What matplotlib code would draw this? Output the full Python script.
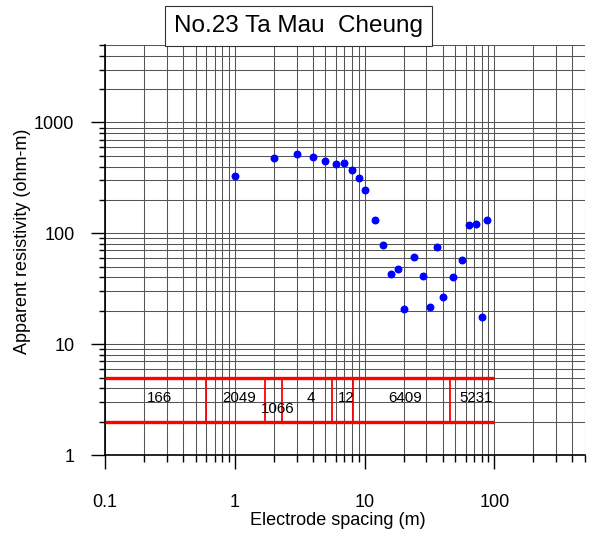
"""Sounding curve for VES station No.23 with the interpreted layer model."""
import matplotlib
matplotlib.use("Agg")
import matplotlib.pyplot as plt
from matplotlib.ticker import FixedLocator, LogLocator, NullFormatter

plt.rcParams["font.family"] = ["Liberation Sans", "DejaVu Sans"]

TITLE = "No.23 Ta Mau  Cheung"

# field data: electrode spacing (m) vs apparent resistivity (ohm-m)
spacing = [1, 2, 3, 4, 5, 6, 7, 8, 9, 10, 12, 14, 16, 18, 20,
           24, 28, 32, 36, 40, 48, 56, 64, 72, 80, 88]
rho_app = [330, 476, 517, 492, 453, 423, 432, 371, 318, 245, 132, 78, 43, 47.7, 20.8,
           61.6, 41.5, 21.5, 75, 26.5, 40, 57.5, 118, 122, 17.6, 132]

# interpreted model: layer boundaries and resistivities
layer_bounds = [0.6, 1.7, 2.3, 5.6, 8.1, 45.6]
layer_rho = [166, 2049, 1066, 4, 12, 6409, 5231]

x_major = [0.1, 1, 10, 100]
x_labels = ["0.1", "1", "10", "100"]
y_major = [1, 10, 100, 1000]
y_labels = ["1", "10", "100", "1000"]

# where the model strip is drawn
BAND_LO, BAND_HI = 2, 5
MODEL_X0, MODEL_X1 = 0.1, 100
LOW_LABELS = {2}          # labels pushed under the strip centre (thin layers)

GRID = "#555555"


def draw():
    fig = plt.figure(figsize=(5.95, 5.34), dpi=100)
    ax = fig.add_axes([105 / 595, 79 / 534, 480 / 595, 410 / 534])
    ax.set_xscale("log")
    ax.set_yscale("log")
    ax.set_xlim(0.1, 500)
    ax.set_ylim(1, 5000)

    ax.xaxis.set_major_locator(FixedLocator(x_major))
    ax.set_xticklabels(x_labels)
    ax.yaxis.set_major_locator(FixedLocator(y_major))
    ax.set_yticklabels(y_labels)
    for axis in (ax.xaxis, ax.yaxis):
        axis.set_minor_locator(LogLocator(base=10, subs=range(2, 10), numticks=20))
        axis.set_minor_formatter(NullFormatter())

    ax.grid(True, which="both", color=GRID, lw=0.75)
    for side in ("top", "right"):
        ax.spines[side].set_visible(False)
    for side in ("left", "bottom"):
        ax.spines[side].set_linewidth(1.2)

    ax.tick_params(axis="x", which="major", direction="out", length=10, width=1,
                   pad=18, labelsize=13)
    ax.tick_params(axis="x", which="minor", direction="out", length=5, width=1)
    ax.tick_params(axis="y", which="major", direction="out", length=10, width=1,
                   pad=12, labelsize=13)
    ax.tick_params(axis="y", which="minor", direction="out", length=4, width=1)

    # layer model strip
    ax.hlines([BAND_LO, BAND_HI], MODEL_X0, MODEL_X1, color="red", lw=2.4, zorder=3)
    ax.vlines(layer_bounds, BAND_LO, BAND_HI, color="red", lw=1.3, zorder=3)
    edges = [MODEL_X0] + layer_bounds + [MODEL_X1]
    mid_y = (BAND_LO * BAND_HI) ** 0.5
    for i, r in enumerate(layer_rho):
        xc = (edges[i] * edges[i + 1]) ** 0.5
        yc = 2.55 if i in LOW_LABELS else mid_y
        ax.annotate(str(r), (xc, yc), xytext=(3, 1), textcoords="offset points",
                    ha="center", va="center", fontsize=10.8, zorder=4)

    ax.plot(spacing, rho_app, "o", color="blue", ms=4.7, zorder=5, clip_on=False)

    ax.set_xlabel("Electrode spacing (m)", fontsize=13, va="center")
    ax.xaxis.set_label_coords(0.486, -0.16)
    ax.set_ylabel("Apparent resistivity (ohm-m)", fontsize=13, va="center")
    ax.yaxis.set_label_coords(-0.171, 0.52)

    fig.text(0.5017, 0.951, TITLE, ha="center", va="center", fontsize=17.5,
             bbox=dict(boxstyle="square,pad=0.36", fc="white", ec="#333333", lw=0.8))

    fig.savefig("out.png", dpi=100)
    plt.close(fig)


if __name__ == "__main__":
    draw()
